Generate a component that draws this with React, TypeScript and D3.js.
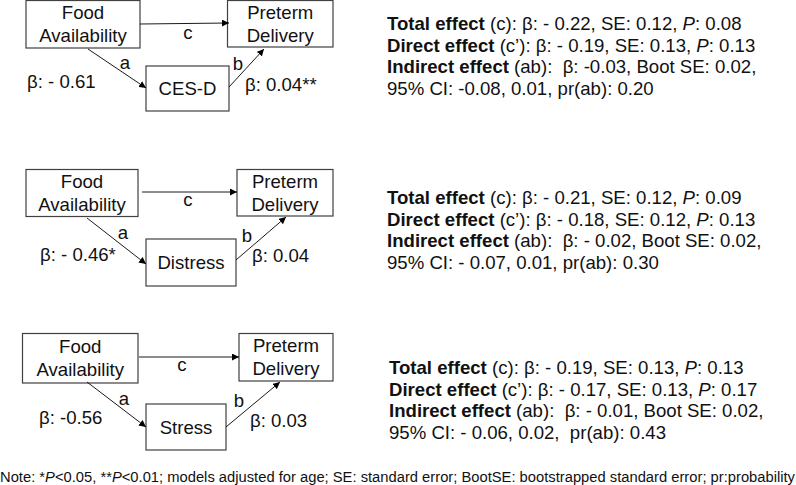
import React from "react";
import * as d3 from "d3";

const mediators = ["CES-D", "Distress", "Stress"];
const exposureLabel = ["Food", "Availability"];
const outcomeLabel = ["Preterm", "Delivery"];
const pathLetters = ["a", "b", "c"];
const aCoefs = ["β: - 0.61", "β: - 0.46*", "β: -0.56"];
const bCoefs = ["β: 0.04**", "β: 0.04", "β: 0.03"];
const totalEffects = [
  ["β: - 0.22, SE: 0.12, ", "0.08"],
  ["β: - 0.21, SE: 0.12, ", "0.09"],
  ["β: - 0.19, SE: 0.13, ", "0.13"],
];
const directEffects = [
  ["β: - 0.19, SE: 0.13, ", "0.13"],
  ["β: - 0.18, SE: 0.12, ", "0.13"],
  ["β: - 0.17, SE: 0.13, ", "0.17"],
];
const indirectEffects = [
  "β: -0.03, Boot SE: 0.02,",
  "β: - 0.02, Boot SE: 0.02,",
  "β: - 0.01, Boot SE: 0.02,",
];
const ciLines = [
  "95% CI: -0.08, 0.01, pr(ab): 0.20",
  "95% CI: - 0.07, 0.01, pr(ab): 0.30",
  "95% CI: - 0.06, 0.02,  pr(ab): 0.43",
];

type Pt = [number, number];
interface Layout {
  food: [number, number, number, number];
  pre: [number, number, number, number];
  med: [number, number, number, number];
  c: [Pt, Pt];
  a: [Pt, Pt];
  b: [Pt, Pt];
  cLab: Pt;
  aLab: Pt;
  bLab: Pt;
  aCoef: Pt;
  bCoef: Pt;
  text: Pt;
}

const layouts: Layout[] = [
  {
    food: [26, 0.5, 114, 47.5],
    pre: [227.5, 0.5, 105.5, 46.5],
    med: [146, 66, 83, 45],
    c: [[140, 24], [229, 23]],
    a: [[88, 49], [146, 88]],
    b: [[229, 87], [264, 49]],
    cLab: [188, 33],
    aLab: [125, 63],
    bLab: [238, 63],
    aCoef: [27, 81],
    bCoef: [245, 84],
    text: [387, 23],
  },
  {
    food: [26, 169.5, 112, 47],
    pre: [237, 169.5, 96, 46.5],
    med: [146, 239, 90, 47],
    c: [[142, 192], [237, 192]],
    a: [[87, 218], [146, 264]],
    b: [[236, 260], [286, 217]],
    cLab: [188, 200],
    aLab: [123, 233],
    bLab: [247, 235],
    aCoef: [40, 254],
    bCoef: [252, 255],
    text: [387, 197],
  },
  {
    food: [22.5, 333.5, 115.5, 49.5],
    pre: [239, 333.5, 94, 47.5],
    med: [146, 404, 80, 46],
    c: [[139, 357], [239, 357]],
    a: [[87, 382], [146, 427]],
    b: [[226, 427], [280, 382]],
    cLab: [182, 365],
    aLab: [124, 399],
    bLab: [239, 400],
    aCoef: [39, 417],
    bCoef: [250, 420],
    text: [389, 367],
  },
];

const FS = 18.6;
const FS_R = 18.6;
const FONT = "'Liberation Sans', Arial, Helvetica, sans-serif";
const TXT = "#111";
const lineGen = d3.line<Pt>().x((d) => d[0]).y((d) => d[1]);

function Box({ r, lines }: { r: [number, number, number, number]; lines: string[] }) {
  const [x, y, w, h] = r;
  const cy = y + h / 2;
  const n = lines.length;
  return (
    <g>
      <rect x={x} y={y} width={w} height={h} fill="#fff" stroke="#404040" strokeWidth={1.2} />
      {lines.map((t, i) => (
        <text
          key={i}
          x={x + w / 2}
          y={cy + (i - (n - 1) / 2) * 23 + 6.7}
          textAnchor="middle"
          fontSize={FS}
          fill={TXT}
        >
          {t}
        </text>
      ))}
    </g>
  );
}

export default function App() {
  const lh = 21.8;
  const off = 6.8;
  return (
    <svg
      width={796}
      height={485}
      style={{ position: "fixed", left: 0, top: 0, background: "#fff" }}
      fontFamily={FONT}
    >
      <defs>
        <marker id="arr" viewBox="0 0 10 10" refX={10} refY={5} markerWidth={7} markerHeight={7} markerUnits="userSpaceOnUse" orient="auto">
          <path d="M0,0 L10,5 L0,10 z" fill="#000" />
        </marker>
      </defs>
      <rect width={796} height={485} fill="#fff" />
      {layouts.map((L, i) => (
        <g key={i}>
          <Box r={L.food} lines={exposureLabel} />
          <Box r={L.pre} lines={outcomeLabel} />
          <Box r={L.med} lines={[mediators[i]]} />
          {[L.c, L.a, L.b].map((seg, k) => (
            <path key={k} d={lineGen(seg) || ""} stroke="#000" strokeWidth={0.9} fill="none" markerEnd="url(#arr)" />
          ))}
          <text x={L.aLab[0]} y={L.aLab[1] + 5.5} textAnchor="middle" fontSize={FS} fill={TXT}>{pathLetters[0]}</text>
          <text x={L.bLab[0]} y={L.bLab[1] + 6.7} textAnchor="middle" fontSize={FS} fill={TXT}>{pathLetters[1]}</text>
          <text x={L.cLab[0]} y={L.cLab[1] + 5.5} textAnchor="middle" fontSize={FS} fill={TXT}>{pathLetters[2]}</text>
          <text x={L.aCoef[0]} y={L.aCoef[1] + 6.7} fontSize={FS} fill={TXT}>{aCoefs[i]}</text>
          <text x={L.bCoef[0]} y={L.bCoef[1] + 6.7} fontSize={FS} fill={TXT}>{bCoefs[i]}</text>
          <g fontSize={FS_R} fill={TXT}>
            <text x={L.text[0]} y={L.text[1] + off}>
              <tspan fontWeight="bold">Total effect</tspan>
              <tspan> (c): {totalEffects[i][0]}</tspan>
              <tspan fontStyle="italic">P</tspan>
              <tspan>: {totalEffects[i][1]}</tspan>
            </text>
            <text x={L.text[0]} y={L.text[1] + lh + off}>
              <tspan fontWeight="bold">Direct effect</tspan>
              <tspan> (c’): {directEffects[i][0]}</tspan>
              <tspan fontStyle="italic">P</tspan>
              <tspan>: {directEffects[i][1]}</tspan>
            </text>
            <text x={L.text[0]} y={L.text[1] + 2 * lh + off} style={{ whiteSpace: "pre" }}>
              <tspan fontWeight="bold">Indirect effect</tspan>
              <tspan>{" (ab):  " + indirectEffects[i]}</tspan>
            </text>
            <text x={L.text[0]} y={L.text[1] + 3 * lh + off} style={{ whiteSpace: "pre" }}>
              {ciLines[i]}
            </text>
          </g>
        </g>
      ))}
      <text x={0} y={481.5} fontSize={14} fill={TXT} textLength={795} lengthAdjust="spacingAndGlyphs">
        <tspan>Note: *</tspan>
        <tspan fontStyle="italic">P</tspan>
        <tspan>&lt;0.05, **</tspan>
        <tspan fontStyle="italic">P</tspan>
        <tspan>&lt;0.01; models adjusted for age; SE: standard error; BootSE: bootstrapped standard error; pr:probability</tspan>
      </text>
    </svg>
  );
}
